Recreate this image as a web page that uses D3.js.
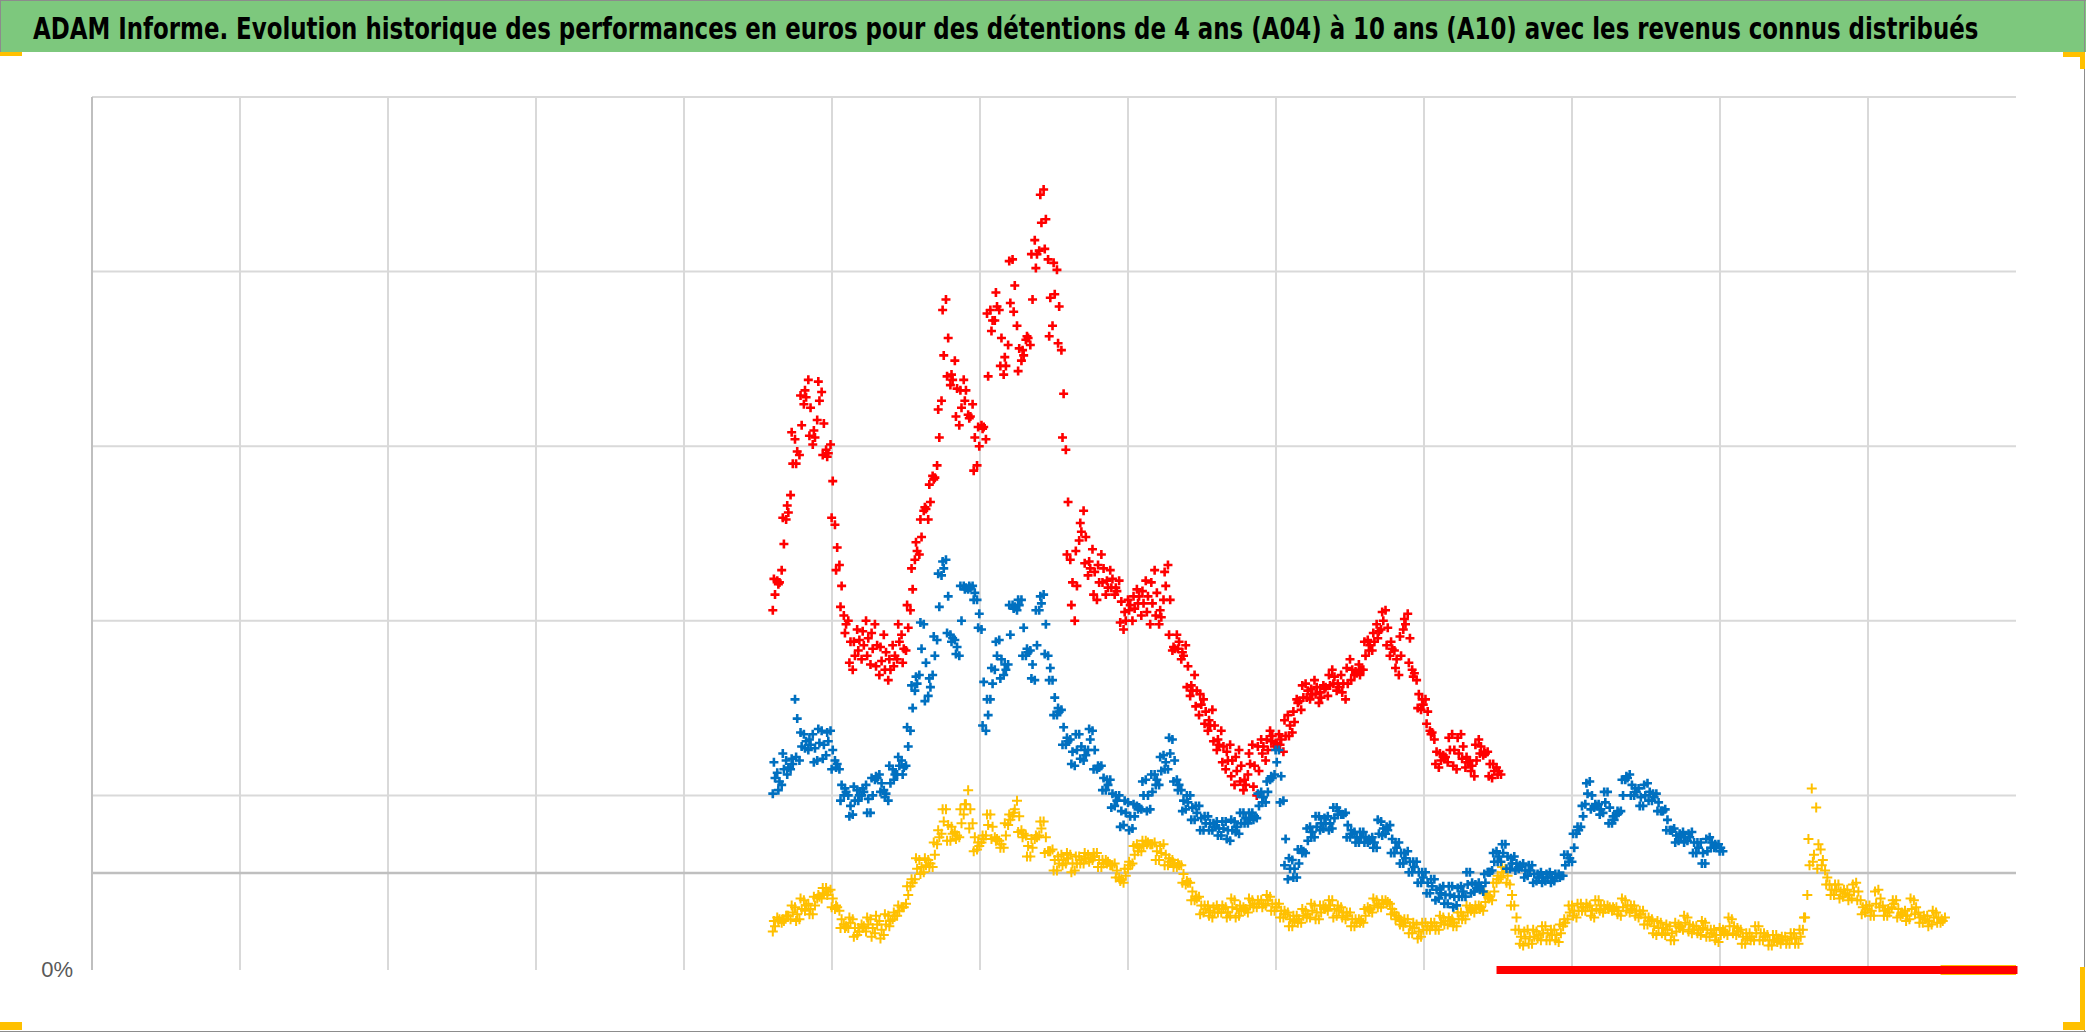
<!DOCTYPE html>
<html>
<head>
<meta charset="utf-8">
<script src="https://cdn.jsdelivr.net/npm/d3@7"></script>
<style>
body{margin:0;background:#fff;}
</style>
</head>
<body>
<svg id="chart" width="2086" height="1032"></svg>
<script>
var titre = "ADAM Informe. Evolution historique des performances en euros pour des détentions de 4 ans (A04) à 10 ans (A10) avec les revenus connus distribués";

// une valeur tous les 0.03 an a partir de 2012.6
// b = lecture decalee d'un demi pas (milieu du nuage), c = decalee d'un quart de pas (autre bord du nuage)
var debut = 2012.6;
var pas = 0.03;

var valA10 = [206,223,229,258,272,304,295,324,338,301,315,331,298,301,255,232,203,200,172,195,
178,200,175,198,169,192,166,186,178,192,183,206,235,238,263,258,283,289,326,384,
335,349,312,338,318,324,289,312,304,378,372,378,341,358,407,369,349,361,358,418,
412,447,407,369,401,355,298,235,200,246,263,226,241,212,238,215,229,215,223,195,
212,200,218,203,223,198,229,198,212,232,183,192,178,186,157,169,146,155,137,149,
126,137,115,129,106,126,103,112,129,100,132,120,137,128,135,125,146,136,155,149,
164,155,166,153,163,157,172,160,169,155,178,169,175,172,189,183,198,195,206,180,
183,169,195,204,172,166,149,155,137,132,116,123,119,135,115,135,116,120,111,132,
123,125,110,116,112];
var valA10b = [215,222,244,262,290,297,312,328,322,305,326,313,296,280,242,220,198,188,180,189,
186,190,184,186,177,182,172,180,188,184,196,218,240,248,264,268,282,305,352,362,
338,333,322,332,317,305,300,311,340,372,380,362,346,382,392,356,352,362,384,410,
428,430,385,387,380,330,268,222,220,251,248,230,228,222,230,219,224,217,211,200,
209,207,214,210,214,210,216,202,220,212,184,188,180,174,160,160,152,148,140,140,
129,128,120,120,114,117,106,118,117,114,128,126,134,129,132,134,140,142,154,156,
160,158,162,156,162,163,168,162,164,164,172,170,172,180,186,188,194,200,196,184,
178,180,198,190,170,158,152,148,136,125,120,122,126,126,124,128,119,117,120,128,
124,118,114,114];
var valA10c = [224,221,259,266,308,290,329,332,306,309,337,295,294,259,229,208,193,176,188,183,
194,180,193,174,185,172,178,174,198,176,209,230,245,258,265,278,281,321,378,340,
341,317,332,326,316,286,311,310,376,366,388,346,351,406,377,343,355,363,410,402,
444,413,363,405,359,305,238,209,240,256,233,234,215,232,222,223,219,219,199,205,
206,214,210,217,205,222,203,206,228,192,185,184,182,162,163,151,158,141,143,131,
132,119,125,111,122,108,109,124,105,128,124,132,131,130,129,143,134,148,153,163,
156,161,158,159,161,169,164,164,159,173,166,171,169,188,183,193,190,205,186,188,
173,191,201,176,168,150,155,141,135,118,124,121,133,117,133,121,122,114,129,124,
125,111,118,112];

var valA07 = [101,113,106,120,115,155,120,135,126,135,120,137,123,137,120,115,100,100,89,103,
100,106,90,109,112,103,97,115,112,120,117,137,160,169,198,157,169,189,226,235,
192,189,180,220,218,220,212,195,137,155,172,189,169,175,209,206,212,180,183,166,
206,215,180,166,146,149,129,132,117,135,120,126,137,115,117,103,109,94,100,83,
96,81,94,92,109,92,112,106,123,115,132,109,103,92,100,86,94,80,88,80,
85,77,85,74,85,78,90,84,90,87,102,96,109,112,126,97,52,63,53,69,
67,82,76,88,81,88,81,93,89,90,76,79,73,79,73,76,70,85,78,83,
67,73,61,68,56,62,50,56,44,52,41,48,38,48,37,48,42,56,45,50,
45,56,57,68,62,72,58,65,58,61,54,60,51,56,51,56,51,55,54,66,
62,78,82,95,108,93,95,90,102,84,89,91,109,112,100,104,94,107,97,101,
91,92,80,81,74,79,74,79,67,73,61,76,70,72,68];
var valA07b = [110,108,115,116,118,144,128,131,129,127,130,129,131,126,118,106,102,94,97,100,
102,98,100,110,107,101,107,112,117,116,128,150,164,184,176,162,180,208,230,214,
190,185,200,219,219,216,204,165,146,164,180,178,172,192,208,209,196,182,175,186,
210,198,173,156,148,139,131,125,126,128,123,132,126,116,110,106,101,97,91,90,
88,88,93,100,100,102,109,114,119,124,120,106,97,96,93,90,87,84,84,82,
81,81,80,80,82,84,87,87,88,94,99,102,110,119,111,75,58,58,61,68,
74,79,82,84,84,84,87,91,89,83,78,76,76,76,74,73,78,81,80,75,
70,67,64,62,59,56,53,50,48,46,44,43,43,42,42,45,49,50,47,48,
50,56,62,65,67,65,61,61,59,57,57,55,53,53,53,53,53,54,60,64,
70,80,88,101,100,94,92,96,93,86,90,100,110,106,102,99,100,102,99,96,
91,86,80,77,76,76,76,73,70,67,68,73,71,70];
var valA07c = [119,103,124,112,121,122,136,127,132,119,138,121,136,115,116,97,104,88,105,97,
104,90,110,111,102,99,117,109,122,112,139,163,168,199,154,167,191,227,234,193,
188,181,220,218,220,212,196,140,155,173,188,167,175,209,207,212,180,184,167,206,
214,181,166,146,150,129,133,118,135,121,126,138,115,117,103,109,93,100,82,97,
80,95,92,108,91,112,106,122,115,133,108,103,91,100,86,94,80,88,80,84,
77,85,75,86,79,90,84,90,86,101,96,108,111,126,96,60,64,53,69,67,
81,76,88,80,87,80,93,89,89,76,80,73,79,73,75,70,86,77,82,67,
73,61,67,56,62,50,56,44,52,40,47,38,48,36,47,42,56,44,49,46,
55,56,67,62,72,58,64,57,60,53,60,50,55,50,55,50,55,53,66,62,
78,82,94,107,92,95,89,102,84,88,91,109,111,100,104,94,106,97,101,91,
91,80,80,73,78,73,78,67,73,61,75,70,72,68];

var valA04 = [22,30,27,31,29,36,29,40,38,32,41,41,47,46,35,34,26,24,29,20,
26,22,29,21,28,20,31,29,31,36,38,48,52,63,56,63,59,72,78,92,
74,79,76,89,103,84,69,73,77,89,76,74,70,83,88,97,80,77,65,75,
77,85,68,69,57,66,61,66,57,65,61,66,63,67,59,63,60,61,53,50,
58,61,72,68,74,72,73,63,72,60,63,59,60,49,50,40,42,33,37,30,
37,33,36,31,40,31,36,33,40,36,40,37,42,34,38,30,33,25,31,27,
34,30,37,29,37,34,40,31,36,29,33,25,29,27,36,33,40,36,40,38,
33,30,25,29,21,26,19,27,23,27,23,30,26,29,25,33,29,36,33,37,
34,43,40,50,53,58,49,37,23,14,23,15,22,17,25,17,23,16,25,29,
37,30,38,34,37,30,40,33,37,34,36,31,40,33,37,30,34,26,29,20,
27,20,25,17,26,23,30,21,25,20,27,19,23,16,23,20,29,20,23,15,
21,17,25,17,20,14,20,15,19,15,21,15,23,43,104,93,69,57,49,43,
49,42,46,41,50,40,33,37,31,46,37,31,36,40,31,34,29,40,33,27,
31,26,33,27,30];
var valA04b = [25,29,28,31,33,32,35,37,35,37,42,44,45,41,36,29,25,27,24,22,
25,26,24,26,23,26,28,31,34,36,43,50,58,59,60,61,66,76,85,83,
78,77,84,95,92,76,71,75,83,82,75,72,77,86,92,88,78,71,70,76,
81,76,68,63,61,63,64,61,61,63,64,64,65,63,61,62,60,57,52,54,
60,66,70,71,73,72,68,67,66,62,61,60,55,50,45,41,37,35,34,33,
35,35,33,36,35,34,35,37,38,38,38,40,38,36,34,32,29,28,29,31,
32,34,33,33,36,37,35,34,33,31,29,27,28,31,35,37,38,38,39,35,
31,28,27,25,24,22,23,25,25,25,27,28,28,27,29,31,33,35,35,36,
39,42,45,52,56,54,43,30,19,18,19,19,20,21,21,20,20,21,27,33,
34,34,36,36,34,35,37,35,36,35,34,36,37,35,34,32,30,28,25,24,
24,23,21,22,25,27,26,23,23,24,23,21,20,20,22,25,25,22,19,18,
19,21,21,19,17,17,18,17,17,18,18,19,30,60,66,72,63,53,46,46,
45,44,43,45,45,36,35,34,38,41,34,33,38,35,32,31,35,36,30,29,
28,30,30,28];
var valA04c = [28,28,29,31,37,28,41,34,32,42,43,47,43,36,37,24,24,30,19,24,
24,30,19,31,18,32,25,33,37,36,48,52,64,55,64,59,73,80,92,74,
82,75,92,95,81,68,73,77,89,75,74,70,84,89,90,79,76,65,75,77,
85,67,68,57,65,60,67,56,65,61,67,62,67,59,63,61,60,53,51,58,
62,71,68,74,72,72,63,71,60,64,59,61,50,51,40,42,32,37,31,36,
33,37,30,41,30,37,34,41,36,40,36,43,34,38,30,34,25,31,27,35,
30,38,29,37,35,40,30,37,30,33,25,29,27,35,34,41,36,40,38,32,
29,26,29,21,27,18,27,23,27,23,31,26,30,25,33,29,37,34,37,35,
44,41,50,54,59,50,37,23,15,22,15,23,18,25,17,23,17,26,29,37,
31,38,34,38,31,40,34,37,35,36,32,41,34,37,31,34,26,30,21,28,
21,26,17,27,24,31,22,25,21,28,19,23,17,24,21,30,21,24,15,21,
17,25,17,21,14,20,16,19,15,21,15,23,30,75,62,58,60,49,43,49,
41,46,40,49,40,32,37,31,45,36,31,35,40,30,33,28,41,32,27,31,
25,34,27,29];

// apres la fin des donnees la serie est posee a 0
var zeroA10 = [2017.49, 2021.01];
var zeroA04 = [2020.49, 2021.0];

var annees = [2009,2010,2011,2012,2013,2014,2015,2016,2017,2018,2019,2020];
var grilleY = [100,200,300,400,500];
var croisement = 55.6; // l'axe horizontal coupe ici

var svg = d3.select("#chart");
var x = d3.scaleLinear().domain([2008, 2021]).range([92, 2016]);
var y = d3.scaleLinear().domain([0, 500]).range([970, 97]);

svg.append("rect").attr("width",2086).attr("height",1032).style("fill","#fff");

// bandeau du titre
svg.append("rect").attr("x",0).attr("y",0).attr("width",2086).attr("height",52).style("fill","#7dc87d");
var t = svg.append("text").text(titre)
    .style("font-family","'Liberation Sans Narrow','DejaVu Sans Condensed','Liberation Sans',Arial,sans-serif")
    .style("font-weight","bold").style("font-size","31px").style("fill","#000");
var large = t.node().getComputedTextLength();
t.attr("transform","translate(33,39) scale("+(1946/large)+",1)");

// grille
svg.append("g").selectAll("line").data(grilleY).join("line")
    .attr("x1",x(2008)).attr("x2",x(2021)).attr("y1",function(d){return y(d);}).attr("y2",function(d){return y(d);})
    .style("stroke","#d9d9d9").style("stroke-width",2);
svg.append("g").selectAll("line").data(annees).join("line")
    .attr("x1",function(d){return x(d);}).attr("x2",function(d){return x(d);}).attr("y1",y(0)).attr("y2",y(500))
    .style("stroke","#d9d9d9").style("stroke-width",2);
// axes
svg.append("line").attr("x1",x(2008)).attr("x2",x(2008)).attr("y1",y(0)).attr("y2",y(500)).style("stroke","#bfbfbf").style("stroke-width",2);
svg.append("line").attr("x1",x(2008)).attr("x2",x(2021)).attr("y1",y(croisement)).attr("y2",y(croisement)).style("stroke","#bfbfbf").style("stroke-width",2.5);

var axeY = svg.append("g").attr("transform","translate("+x(2008)+",0)")
    .call(d3.axisLeft(y).tickValues([0]).tickSize(0).tickPadding(19).tickFormat(function(d){return d+"%";}));
axeY.select(".domain").remove();
axeY.selectAll("text").style("font-family","'Liberation Sans Narrow','Liberation Sans',Arial,sans-serif")
    .style("font-size","22px").style("fill","#595959").attr("dy","0.3em");

function croix(r){ return "M"+(-r)+",0H"+r+"M0,"+(-r)+"V"+r; }

function dessineSerie(vals, depart, couleur, r, ep){
    var pts = vals.map(function(v,i){ return {a: depart+i*pas, v: v}; });
    svg.append("g").selectAll("path").data(pts).join("path")
        .attr("transform",function(d){ return "translate("+x(d.a)+","+y(d.v)+")"; })
        .attr("d",croix(r))
        .style("stroke",couleur).style("stroke-width",ep).style("fill","none");
}
function dessineZero(z, couleur, ep){
    svg.append("line").attr("x1",x(z[0])).attr("x2",x(z[1])).attr("y1",y(0)).attr("y2",y(0))
        .style("stroke",couleur).style("stroke-width",ep);
}

dessineZero(zeroA04, "#ffc000", 10);
dessineSerie(valA04, debut, "#ffc000", 5, 2);
dessineSerie(valA04b, debut+pas/2, "#ffc000", 5, 2);
dessineSerie(valA04c, debut+pas/4, "#ffc000", 5, 2);
dessineSerie(valA10, debut, "#ff0000", 4.5, 2.6);
dessineSerie(valA10b, debut+pas/2, "#ff0000", 4.5, 2.6);
dessineSerie(valA10c, debut+pas/4, "#ff0000", 4.5, 2.6);
dessineZero(zeroA10, "#ff0000", 8);
dessineSerie(valA07, debut, "#0070c0", 4.5, 2.6);
dessineSerie(valA07b, debut+pas/2, "#0070c0", 4.5, 2.6);
dessineSerie(valA07c, debut+pas/4, "#0070c0", 4.5, 2.6);

// cadre + poignees jaunes de selection
svg.append("line").attr("x1",0).attr("x2",2086).attr("y1",0.5).attr("y2",0.5).style("stroke","#8c8c8c");
svg.append("line").attr("x1",0.5).attr("x2",0.5).attr("y1",0).attr("y2",52).style("stroke","#8c8c8c");
svg.append("line").attr("x1",2084.5).attr("x2",2084.5).attr("y1",0).attr("y2",1032).style("stroke","#8c8c8c");
svg.append("line").attr("x1",0).attr("x2",2086).attr("y1",1031.5).attr("y2",1031.5).style("stroke","#8c8c8c");
var poignees = [[0,52,22,4],[2063,52,22,5],[2080,52,5,17],[0,1022,22,8],[2063,1022,22,8],[2080,967,5,63]];
svg.append("g").selectAll("rect").data(poignees).join("rect")
    .attr("x",function(d){return d[0];}).attr("y",function(d){return d[1];})
    .attr("width",function(d){return d[2];}).attr("height",function(d){return d[3];})
    .style("fill","#ffc000");
</script>
</body>
</html>
